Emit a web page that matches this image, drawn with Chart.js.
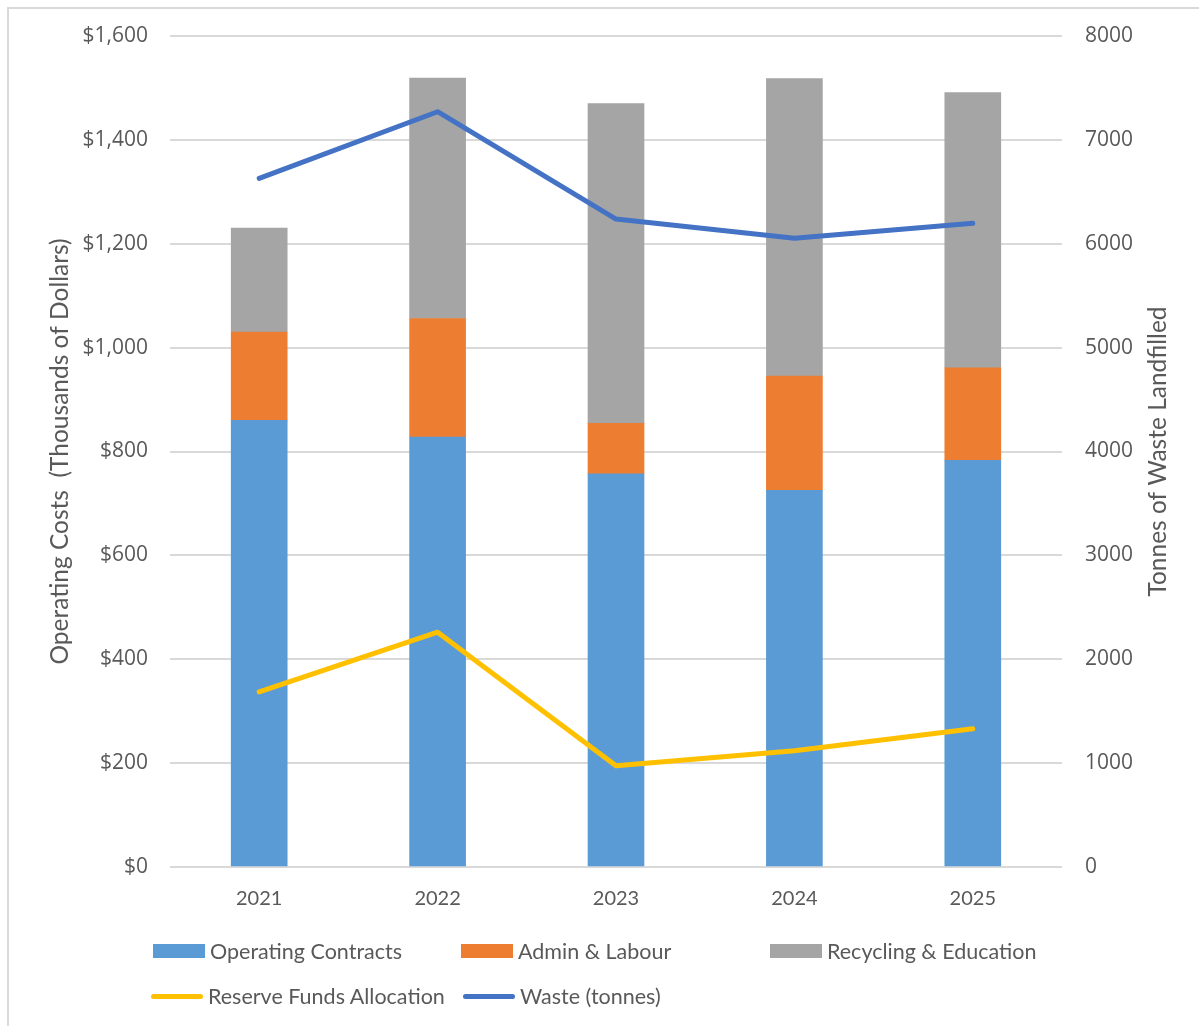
<!DOCTYPE html>
<html>
<head>
<meta charset="utf-8">
<script src="https://cdn.jsdelivr.net/npm/chart.js@4.4.1/dist/chart.umd.min.js"></script>
<style>
  html, body { margin: 0; padding: 0; background: #fff; }
  body { width: 1199px; height: 1026px; position: relative; overflow: hidden; }
  #frame {
    position: absolute; left: 7px; top: 7px; width: 1300px; height: 1100px;
    border-left: 2px solid #d9d9d9; border-top: 2px solid #d9d9d9;
  }
  #chartBox { position: absolute; left: 0; top: 0; width: 1199px; height: 1026px; }
  .legend-item {
    position: absolute; height: 30px; display: flex; align-items: center;
    font-family: Lato, sans-serif; font-size: 21.5px; color: #595959; white-space: nowrap;
  }
  .swatch-box { width: 52px; height: 14px; margin-right: 5px; }
  .swatch-line { width: 52px; height: 5px; border-radius: 3px; margin-right: 5px; }
</style>
</head>
<body>
<div id="frame"></div>
<div id="chartBox"><canvas id="costChart" width="1199" height="1026"></canvas></div>
<div id="legend"></div>

<script>
// --- dados ---
const years = ['2021', '2022', '2023', '2024', '2025'];

// custos de operação (milhares de dólares)
const operatingContracts = [860, 828, 757, 725, 783];
const adminLabour = [170, 228, 97, 220, 178];
const recyclingEducation = [200, 463, 616, 573, 530];
const reserveFunds = [337, 452, 195, 224, 266];

// toneladas de resíduos aterrados
const wasteTonnes = [6630, 7271, 6238, 6052, 6197];

const costTicks = [0, 200, 400, 600, 800, 1000, 1200, 1400, 1600];
const tonneTicks = [0, 1000, 2000, 3000, 4000, 5000, 6000, 7000, 8000];

const textColor = '#595959';
const gridColor = '#d9d9d9';
const rightTitle = 'Tonnes of Waste Landfilled';

// título do eixo direito lido de baixo para cima, igual ao esquerdo
const rightTitlePlugin = {
    id: 'rightTitle',
    afterDraw(chart) {
        const c = chart.ctx;
        const area = chart.chartArea;
        c.save();
        c.translate(1158, (area.top + area.bottom) / 2);
        c.rotate(-Math.PI / 2);
        c.font = '24.5px Lato';
        c.fillStyle = textColor;
        c.textAlign = 'center';
        c.textBaseline = 'middle';
        c.fillText(rightTitle, 0, 0);
        c.restore();
    }
};

document.addEventListener('DOMContentLoaded', () => {

    const datasets = [
        { type: 'bar', label: 'Operating Contracts', data: operatingContracts, backgroundColor: '#5b9bd5', yAxisID: 'y', stack: 'costs', order: 1 },
        { type: 'bar', label: 'Admin & Labour', data: adminLabour, backgroundColor: '#ed7d31', yAxisID: 'y', stack: 'costs', order: 1 },
        { type: 'bar', label: 'Recycling & Education', data: recyclingEducation, backgroundColor: '#a5a5a5', yAxisID: 'y', stack: 'costs', order: 1 },
        { type: 'line', label: 'Reserve Funds Allocation', data: reserveFunds, borderColor: '#ffc000', backgroundColor: '#ffc000', yAxisID: 'y', stack: 'reserve', order: 0 },
        { type: 'line', label: 'Waste (tonnes)', data: wasteTonnes, borderColor: '#4472c4', backgroundColor: '#4472c4', yAxisID: 'y1', order: 0 }
    ];

    datasets.forEach(ds => {
        if (ds.type === 'bar') {
            ds.barThickness = 56;
            ds.borderWidth = 0;
        } else {
            ds.borderWidth = 5;
            ds.pointRadius = 0;
            ds.tension = 0;
            ds.borderCapStyle = 'round';
            ds.borderJoinStyle = 'round';
            ds.fill = false;
        }
    });

    const ctx = document.getElementById('costChart').getContext('2d');
    new Chart(ctx, {
        data: { labels: years, datasets: datasets },
        plugins: [rightTitlePlugin],
        options: {
            responsive: false,
            animation: false,
            layout: { padding: { top: 36, left: 0, right: 0, bottom: 0 } },
            plugins: {
                legend: { display: false },
                tooltip: { enabled: false }
            },
            scales: {
                x: {
                    stacked: true,
                    grid: { display: false },
                    border: { display: false },
                    ticks: { color: textColor, font: { family: 'Lato', size: 20 }, padding: 12 },
                    afterFit: s => { s.height = 159; }
                },
                y: {
                    type: 'linear',
                    position: 'left',
                    stacked: true,
                    min: 0,
                    max: 1600,
                    afterBuildTicks: s => { s.ticks = costTicks.map(v => ({ value: v })); },
                    grid: { color: gridColor, lineWidth: 2, drawTicks: false },
                    border: { display: false },
                    ticks: {
                        color: textColor,
                        font: { family: 'Open Sans', size: 21 },
                        padding: 22,
                        callback: v => '$' + v.toLocaleString('en-US')
                    },
                    title: {
                        display: true,
                        text: 'Operating Costs  (Thousands of Dollars)',
                        color: textColor,
                        font: { family: 'Lato', size: 24.5 },
                        padding: { top: 45, bottom: 0 }
                    },
                    afterFit: s => { s.width = 170; }
                },
                y1: {
                    type: 'linear',
                    position: 'right',
                    min: 0,
                    max: 8000,
                    afterBuildTicks: s => { s.ticks = tonneTicks.map(v => ({ value: v })); },
                    grid: { drawOnChartArea: false, drawTicks: false },
                    border: { display: false },
                    ticks: {
                        color: textColor,
                        font: { family: 'Open Sans', size: 21 },
                        padding: 23,
                        callback: v => String(v)
                    },
                    afterFit: s => { s.width = 137; }
                }
            }
        }
    });

    // legenda em HTML, duas linhas como no layout original
    const legendPos = [
        { left: 153, top: 936 }, { left: 461, top: 936 }, { left: 770, top: 936 },
        { left: 151, top: 981 }, { left: 463, top: 981 }
    ];
    const legend = document.getElementById('legend');
    datasets.forEach((ds, i) => {
        const item = document.createElement('div');
        item.className = 'legend-item';
        item.style.left = legendPos[i].left + 'px';
        item.style.top = legendPos[i].top + 'px';
        const sw = document.createElement('span');
        sw.className = ds.type === 'bar' ? 'swatch-box' : 'swatch-line';
        sw.style.background = ds.type === 'bar' ? ds.backgroundColor : ds.borderColor;
        const label = document.createElement('span');
        label.textContent = ds.label;
        item.appendChild(sw);
        item.appendChild(label);
        legend.appendChild(item);
    });
});
</script>
</body>
</html>
